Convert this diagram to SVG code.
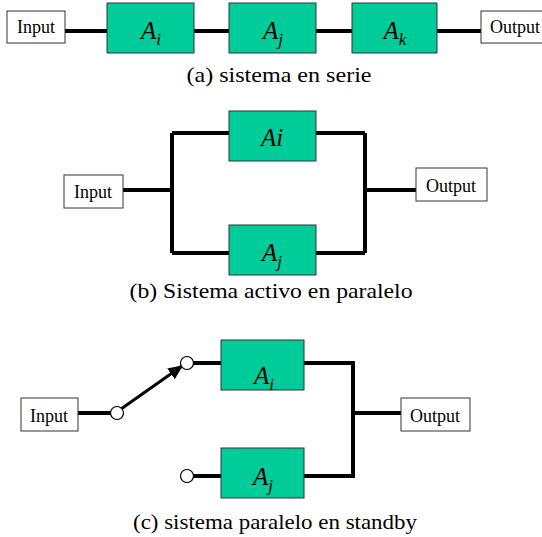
<svg xmlns="http://www.w3.org/2000/svg" width="542" height="537" viewBox="0 0 542 537">
  <style>
    .blk { fill: #00CC99; stroke: #333; stroke-width: 1; }
    .io { fill: #fff; stroke: #333; stroke-width: 1; }
    .wire { fill: none; stroke: #000; stroke-width: 4; }
    .pin { fill: #fff; stroke: #000; stroke-width: 1.2; }
    text { font-family: "Liberation Serif", "Times New Roman", serif; fill: #000; }
    .iot { font-size: 18px; text-anchor: middle; }
    .lbl { font-size: 25px; font-style: italic; text-anchor: middle; }
    .sub { font-size: 17px; }
    .cap { font-size: 22px; text-anchor: middle; }
  </style>
  <defs>
    <marker id="arrow" viewBox="0 0 10 10" refX="9" refY="5" markerWidth="5" markerHeight="4.4" orient="auto" markerUnits="strokeWidth" preserveAspectRatio="none">
      <path d="M0,0 L10,5 L0,10 z" fill="#000"/>
    </marker>
  </defs>
  <rect width="542" height="537" fill="#fff"/>

  <!-- connectors -->
  <g id="connectors">
    <!-- (a) series -->
    <path class="wire" d="M65,31 H107 M194,31 H229 M316,31 H352 M437,31 H481"/>
    <!-- (b) active parallel -->
    <path class="wire" d="M123,190 H172 M172,133 V253 M172,133 H229 M172,253 H229 M316,133 H365 M316,253 H365 M365,133 V253 M365,190 H416"/>
    <!-- (c) standby parallel -->
    <path class="wire" d="M78,413 H111 M193,363 H221 M193,476 H221 M304,363 H353 V476 H304 M353,413 H401"/>
    <path d="M121,409 L182,366" fill="none" stroke="#000" stroke-width="3" marker-end="url(#arrow)"/>
  </g>

  <!-- (a) series system -->
  <g id="a-input"><rect class="io" x="7" y="11" width="58" height="32"/><text class="iot" x="36" y="33">Input</text></g>
  <g id="a-Ai"><rect class="blk" x="107" y="3" width="87" height="50"/><text class="lbl" x="151" y="39">A<tspan class="sub" dy="6">i</tspan></text></g>
  <g id="a-Aj"><rect class="blk" x="229" y="3" width="87" height="50"/><text class="lbl" x="273" y="39">A<tspan class="sub" dy="6">j</tspan></text></g>
  <g id="a-Ak"><rect class="blk" x="352" y="3" width="85" height="50"/><text class="lbl" x="395" y="39">A<tspan class="sub" dy="6">k</tspan></text></g>
  <g id="a-output"><rect class="io" x="481" y="11" width="62" height="32"/><text class="iot" x="515" y="33">Output</text></g>
  <text class="cap" x="279" y="82" textLength="185" lengthAdjust="spacingAndGlyphs">(a) sistema en serie</text>

  <!-- (b) active parallel system -->
  <g id="b-input"><rect class="io" x="64" y="175" width="59" height="33"/><text class="iot" x="93" y="198">Input</text></g>
  <g id="b-Ai"><rect class="blk" x="229" y="111" width="87" height="50"/><text class="lbl" x="272" y="146">Ai</text></g>
  <g id="b-Aj"><rect class="blk" x="229" y="225" width="87" height="50"/><text class="lbl" x="272" y="261">A<tspan class="sub" dy="6">j</tspan></text></g>
  <g id="b-output"><rect class="io" x="416" y="168" width="71" height="33"/><text class="iot" x="451" y="192">Output</text></g>
  <text class="cap" x="271" y="298" textLength="283" lengthAdjust="spacingAndGlyphs">(b) Sistema activo en paralelo</text>

  <!-- (c) standby parallel system -->
  <g id="c-input"><rect class="io" x="21" y="398" width="57" height="33"/><text class="iot" x="49" y="422">Input</text></g>
  <g id="c-switch"><circle class="pin" cx="117" cy="413" r="6.5"/></g>
  <g id="c-pin-i"><circle class="pin" cx="187" cy="363" r="6.5"/></g>
  <g id="c-pin-j"><circle class="pin" cx="187" cy="476" r="6.5"/></g>
  <g id="c-Ai"><rect class="blk" x="221" y="340" width="83" height="50"/><text class="lbl" x="264" y="384">A<tspan class="sub" dy="6">i</tspan></text></g>
  <g id="c-Aj"><rect class="blk" x="221" y="448" width="83" height="50"/><text class="lbl" x="263" y="485">A<tspan class="sub" dy="6">j</tspan></text></g>
  <g id="c-output"><rect class="io" x="401" y="398" width="69" height="33"/><text class="iot" x="435" y="422">Output</text></g>
  <text class="cap" x="275" y="529" textLength="284" lengthAdjust="spacingAndGlyphs">(c) sistema paralelo en standby</text>
</svg>
